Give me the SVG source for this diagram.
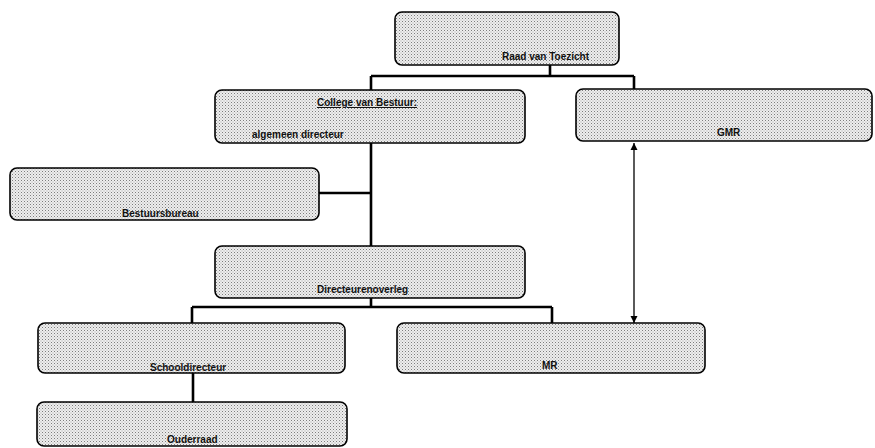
<svg xmlns="http://www.w3.org/2000/svg" width="875" height="448" viewBox="0 0 875 448">
<defs>
<pattern id="dots" width="3" height="3" patternUnits="userSpaceOnUse">
<rect width="3" height="3" fill="#eeeeee"/>
<rect x="0" y="0" width="1" height="1" fill="#7d7d7d"/>
<rect x="1.5" y="1.5" width="1" height="1" fill="#a8a8a8"/>
</pattern>
<marker id="arr" viewBox="0 0 10 10" refX="10" refY="5" markerWidth="7" markerHeight="8" orient="auto-start-reverse" markerUnits="userSpaceOnUse">
<path d="M0,0 L10,5 L0,10 z" fill="#000"/>
</marker>
</defs>
<style>
.box{fill:url(#dots);stroke:#000;stroke-width:1.6}
.t{font-family:"Liberation Sans",Arial,sans-serif;font-size:10px;font-weight:bold;fill:#111}
.c{fill:none;stroke:#000;stroke-width:2.6}
.a{fill:none;stroke:#000;stroke-width:1.3}
</style>
<rect width="875" height="448" fill="#fff"/>
<g id="connectors">
<path class="c" d="M550,65 V76 M371,76 H634 M371,76 V90 M634,76 V89"/>
<path class="c" d="M371,143 V246 M318,193 H371"/>
<path class="c" d="M371,298 V307 M192,307 H552 M192,307 V323 M552,307 V323"/>
<path class="c" d="M193,373 V402"/>
<line class="a" x1="634" y1="143" x2="634" y2="323" marker-start="url(#arr)" marker-end="url(#arr)"/>
</g>
<g id="raad">
<rect class="box" x="395" y="12" width="224" height="53" rx="7"/>
<text class="t" x="502" y="60">Raad van Toezicht</text>
</g>
<g id="college">
<rect class="box" x="215" y="90" width="310" height="53" rx="7"/>
<text class="t" x="317" y="106" text-decoration="underline">College van Bestuur:</text>
<text class="t" x="252" y="138">algemeen directeur</text>
</g>
<g id="gmr">
<rect class="box" x="576" y="89" width="296" height="52" rx="7"/>
<text class="t" x="717" y="136">GMR</text>
</g>
<g id="bestuursbureau">
<rect class="box" x="10" y="168" width="309" height="52" rx="7"/>
<text class="t" x="122" y="217">Bestuursbureau</text>
</g>
<g id="directeurenoverleg">
<rect class="box" x="215" y="246" width="310" height="52" rx="7"/>
<text class="t" x="317" y="293">Directeurenoverleg</text>
</g>
<g id="schooldirecteur">
<rect class="box" x="38" y="323" width="307" height="50" rx="7"/>
<text class="t" x="150" y="371">Schooldirecteur</text>
</g>
<g id="mr">
<rect class="box" x="397" y="323" width="308" height="50" rx="7"/>
<text class="t" x="542" y="369">MR</text>
</g>
<g id="ouderraad">
<rect class="box" x="37" y="402" width="310" height="44" rx="7"/>
<text class="t" x="167" y="443">Ouderraad</text>
</g>
</svg>
